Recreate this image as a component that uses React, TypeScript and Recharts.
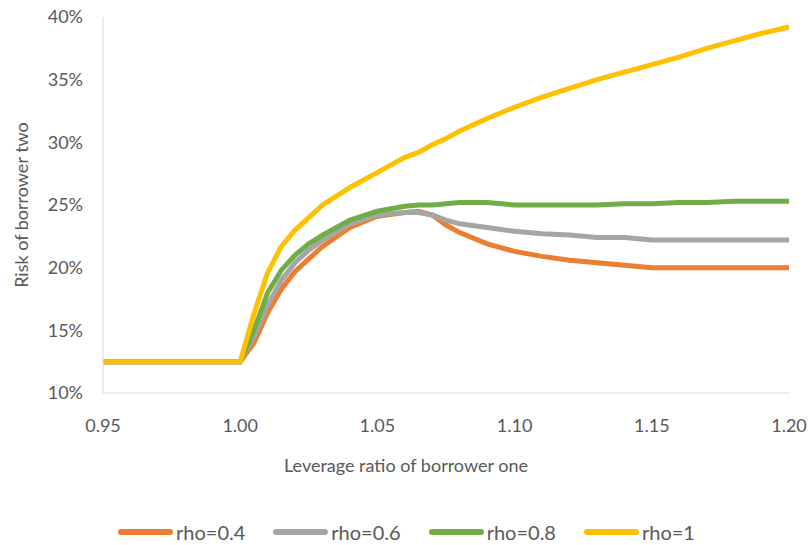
import React from "react";
import { LineChart, Line, XAxis, YAxis, Legend } from "recharts";

// leverage ratio of borrower one
const leverage = [
    0.95, 0.96, 0.97, 0.98, 0.99, 1.0, 1.005, 1.01, 1.015, 1.02, 1.025, 1.03,
    1.04, 1.05, 1.06, 1.065, 1.07, 1.075, 1.08, 1.09, 1.1, 1.11, 1.12, 1.13,
    1.14, 1.15, 1.16, 1.17, 1.18, 1.19, 1.2,
];

// risk of borrower two, in %
const rho04 = [
    12.5, 12.5, 12.5, 12.5, 12.5, 12.5, 14.0, 16.4, 18.3, 19.7, 20.7, 21.7,
    23.2, 24.1, 24.4, 24.5, 24.2, 23.4, 22.8, 21.9, 21.3, 20.9, 20.6, 20.4,
    20.2, 20.0, 20.0, 20.0, 20.0, 20.0, 20.0,
];
const rho06 = [
    12.5, 12.5, 12.5, 12.5, 12.5, 12.5, 14.5, 17.0, 19.0, 20.4, 21.4, 22.2,
    23.5, 24.2, 24.4, 24.4, 24.2, 23.8, 23.5, 23.2, 22.9, 22.7, 22.6, 22.4,
    22.4, 22.2, 22.2, 22.2, 22.2, 22.2, 22.2,
];
const rho08 = [
    12.5, 12.5, 12.5, 12.5, 12.5, 12.5, 15.0, 18.0, 19.8, 21.0, 21.9, 22.6,
    23.8, 24.5, 24.9, 25.0, 25.0, 25.1, 25.2, 25.2, 25.0, 25.0, 25.0, 25.0,
    25.1, 25.1, 25.2, 25.2, 25.3, 25.3, 25.3,
];
const rho1 = [
    12.5, 12.5, 12.5, 12.5, 12.5, 12.5, 16.3, 19.6, 21.7, 23.0, 24.0, 25.0,
    26.4, 27.6, 28.8, 29.2, 29.8, 30.3, 30.9, 31.9, 32.8, 33.6, 34.3, 35.0,
    35.6, 36.2, 36.8, 37.5, 38.1, 38.7, 39.2,
];

const xTicks = [0.95, 1.0, 1.05, 1.1, 1.15, 1.2];
const yTicks = [10, 15, 20, 25, 30, 35, 40];

const series = [
    { key: "rho04", name: "rho=0.4", color: "#ED7D31" },
    { key: "rho06", name: "rho=0.6", color: "#A5A5A5" },
    { key: "rho08", name: "rho=0.8", color: "#70AD47" },
    { key: "rho1", name: "rho=1", color: "#FFC000" },
];

const data = leverage.map((x, i) => ({
    x,
    rho04: rho04[i],
    rho06: rho06[i],
    rho08: rho08[i],
    rho1: rho1[i],
}));

const W = 812;
const H = 545;
const font = "Lato, 'Open Sans', sans-serif";
const textColor = "#595959";
const axisColor = "#D9D9D9";

const LegendContent = () => (
    <div
        style={{
            display: "flex",
            justifyContent: "center",
            alignItems: "center",
            height: 24,
            paddingLeft: 14,
            fontFamily: font,
            fontSize: 20,
            color: textColor,
        }}
    >
        {series.map((s) => (
            <div
                key={s.key}
                style={{ display: "flex", alignItems: "center", margin: "0 14px" }}
            >
                <div
                    style={{
                        width: 55,
                        height: 6,
                        borderRadius: 3,
                        background: s.color,
                        marginRight: 3,
                    }}
                />
                <span>{s.name}</span>
            </div>
        ))}
    </div>
);

// axis title is centred on the whole chart, like Excel does
const XTitle = ({ viewBox }: any) => (
    <text
        x={W / 2}
        y={viewBox.y + viewBox.height - 1}
        textAnchor="middle"
        fill={textColor}
        fontSize={18}
        fontFamily={font}
    >
        Leverage  ratio of borrower one
    </text>
);

export default function App() {
    return (
        <div style={{ position: "absolute", left: 0, top: 0, background: "#fff" }}>
            <LineChart
                width={W}
                height={H}
                data={data}
                margin={{ top: 17, right: 23, left: 10, bottom: 48 }}
            >
                <XAxis
                    dataKey="x"
                    type="number"
                    domain={[0.95, 1.2]}
                    ticks={xTicks}
                    tickFormatter={(v: number) => v.toFixed(2)}
                    height={80}
                    stroke={axisColor}
                    tickLine={false}
                    tickSize={0}
                    tickMargin={26}
                    tick={{ fill: textColor, fontSize: 18, fontFamily: font }}
                    label={<XTitle />}
                />
                <YAxis
                    type="number"
                    domain={[10, 40]}
                    ticks={yTicks}
                    tickFormatter={(v: number) => `${v}%`}
                    width={93}
                    stroke={axisColor}
                    tickLine={false}
                    tickSize={0}
                    tickMargin={20}
                    tick={{ fill: textColor, fontSize: 18, fontFamily: font }}
                    label={{
                        value: "Risk of borrower two",
                        angle: -90,
                        position: "insideLeft",
                        offset: 12,
                        fill: textColor,
                        fontSize: 18,
                        fontFamily: font,
                        style: { textAnchor: "middle" },
                    }}
                />
                <Legend
                    verticalAlign="bottom"
                    content={<LegendContent />}
                    wrapperStyle={{ bottom: 1 }}
                />
                {series.map((s) => (
                    <Line
                        key={s.key}
                        dataKey={s.key}
                        name={s.name}
                        stroke={s.color}
                        strokeWidth={5}
                        dot={false}
                        type="linear"
                        isAnimationActive={false}
                    />
                ))}
            </LineChart>
        </div>
    );
}
